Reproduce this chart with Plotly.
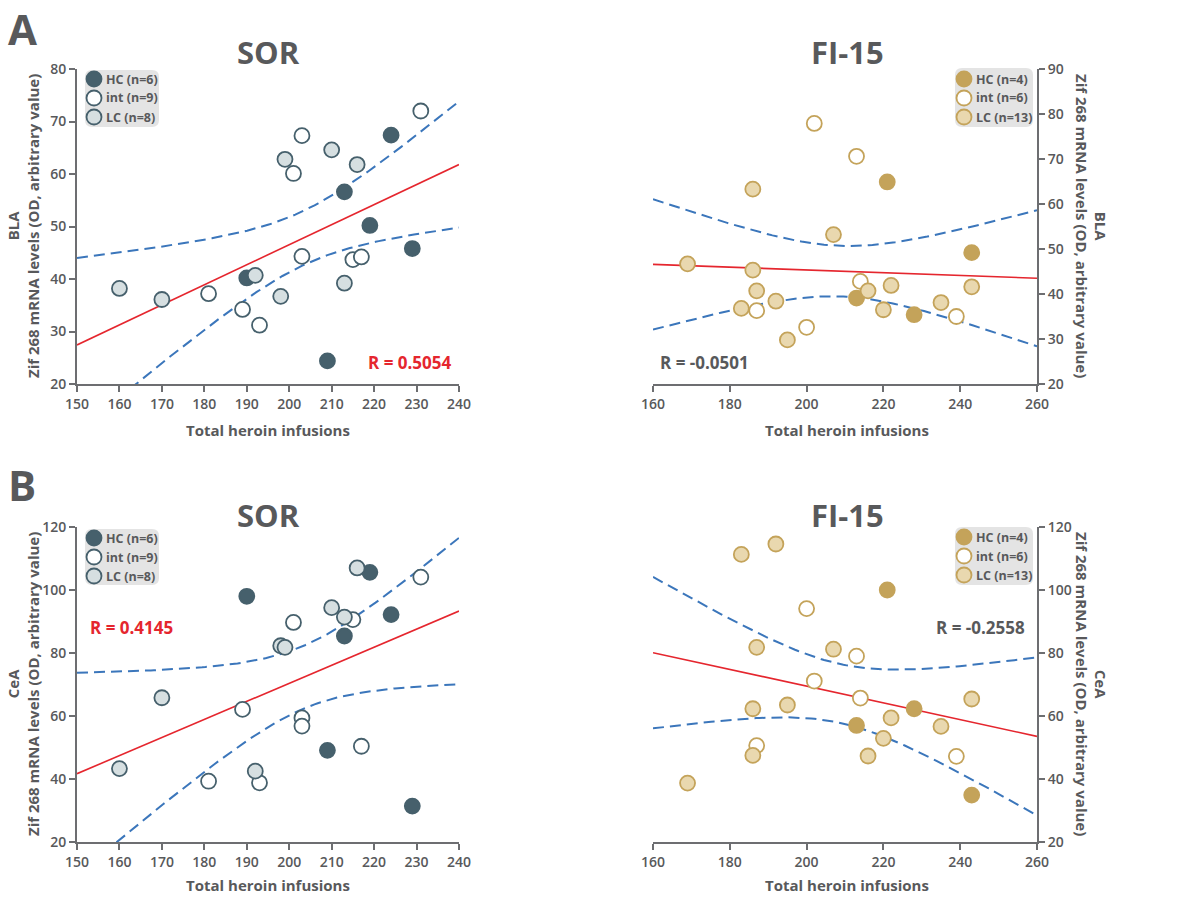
import numpy as np
import plotly.graph_objects as go

# ---------------- data ----------------
# Panel A (BLA), SOR group
a_sor_hc_x = [224, 213, 219, 229, 190, 209]
a_sor_hc_y = [67.4, 56.6, 50.2, 45.8, 40.2, 24.4]
a_sor_int_x = [231, 203, 201, 203, 215, 217, 181, 189, 193]
a_sor_int_y = [72.0, 67.3, 60.1, 44.3, 43.7, 44.2, 37.2, 34.2, 31.2]
a_sor_lc_x = [199, 210, 216, 192, 213, 198, 170, 160]
a_sor_lc_y = [62.8, 64.6, 61.8, 40.7, 39.2, 36.7, 36.1, 38.2]

# Panel A (BLA), FI-15 group
a_fi_hc_x = [221, 243, 213, 228]
a_fi_hc_y = [64.9, 49.2, 39.1, 35.4]
a_fi_int_x = [202, 213, 214, 187, 200, 239]
a_fi_int_y = [77.9, 70.6, 42.8, 36.3, 32.6, 35.0]
a_fi_lc_x = [186, 207, 169, 186, 187, 183, 192, 195, 216, 222, 220, 235, 243]
a_fi_lc_y = [63.3, 53.2, 46.7, 45.3, 40.7, 36.8, 38.4, 29.8, 40.7, 41.9, 36.5, 38.1, 41.6]

# Panel B (CeA), SOR group
b_sor_hc_x = [190, 219, 224, 213, 209, 229]
b_sor_hc_y = [98.0, 105.6, 92.2, 85.4, 49.1, 31.4]
b_sor_int_x = [231, 201, 215, 189, 203, 203, 217, 181, 193]
b_sor_int_y = [104.1, 89.7, 90.6, 62.1, 59.4, 56.8, 50.4, 39.3, 38.8]
b_sor_lc_x = [216, 210, 213, 198, 199, 170, 160, 192]
b_sor_lc_y = [107.0, 94.4, 91.4, 82.3, 81.8, 65.8, 43.3, 42.5]

# Panel B (CeA), FI-15 group
b_fi_hc_x = [221, 228, 213, 243]
b_fi_hc_y = [100.0, 62.3, 57.0, 34.9]
b_fi_int_x = [200, 213, 202, 214, 187, 239]
b_fi_int_y = [94.1, 79.0, 71.1, 65.7, 50.6, 47.2]
b_fi_lc_x = [183, 192, 187, 207, 186, 195, 222, 235, 243, 220, 186, 216, 169]
b_fi_lc_y = [111.3, 114.6, 81.8, 81.2, 62.3, 63.5, 59.4, 56.7, 65.4, 52.9, 47.5, 47.3, 38.7]

sor_labels = ["HC (n=6)", "int (n=9)", "LC (n=8)"]
fi_labels = ["HC (n=4)", "int (n=6)", "LC (n=13)"]
r_labels = ["R = 0.5054", "R = -0.0501", "R = 0.4145", "R = -0.2558"]
titles = ["SOR", "FI-15", "SOR", "FI-15"]
regions = ["BLA", "BLA", "CeA", "CeA"]

# ---------------- style ----------------
FONT = "Open Sans"
TXT = "#58595b"
AXC = "#6d6e71"
RED = "#e5262e"
BLUE = "#3b76bb"
SOR_DARK = "#46606c"
SOR_LIGHT = "#d6dfe1"
FI_DARK = "#c4a35a"
FI_LIGHT = "#e9d8af"
LEG_BG = "#e4e4e4"
T_CRIT = 2.0796  # two-sided 95 %, df = 21

W, H = 1187, 897


def px_x(p):
    return p / W


def px_y(p):
    return 1 - p / H


fig = go.Figure()

panels = [
    dict(x=(a_sor_hc_x, a_sor_int_x, a_sor_lc_x), y=(a_sor_hc_y, a_sor_int_y, a_sor_lc_y),
         xr=(150, 240), cols=(SOR_DARK, SOR_LIGHT), labels=sor_labels),
    dict(x=(a_fi_hc_x, a_fi_int_x, a_fi_lc_x), y=(a_fi_hc_y, a_fi_int_y, a_fi_lc_y),
         xr=(160, 260), cols=(FI_DARK, FI_LIGHT), labels=fi_labels),
    dict(x=(b_sor_hc_x, b_sor_int_x, b_sor_lc_x), y=(b_sor_hc_y, b_sor_int_y, b_sor_lc_y),
         xr=(150, 240), cols=(SOR_DARK, SOR_LIGHT), labels=sor_labels),
    dict(x=(b_fi_hc_x, b_fi_int_x, b_fi_lc_x), y=(b_fi_hc_y, b_fi_int_y, b_fi_lc_y),
         xr=(160, 260), cols=(FI_DARK, FI_LIGHT), labels=fi_labels),
]

for i, p in enumerate(panels):
    xa = "x" if i == 0 else f"x{i + 1}"
    ya = "y" if i == 0 else f"y{i + 1}"
    xs = np.array(sum([list(v) for v in p["x"]], []), dtype=float)
    ys = np.array(sum([list(v) for v in p["y"]], []), dtype=float)
    n = len(xs)
    xm = xs.mean()
    sxx = ((xs - xm) ** 2).sum()
    slope = ((xs - xm) * (ys - ys.mean())).sum() / sxx
    icpt = ys.mean() - slope * xm
    resid = ys - (icpt + slope * xs)
    s = np.sqrt((resid ** 2).sum() / (n - 2))

    # least-squares line with its 95 % confidence band
    gx = np.linspace(p["xr"][0], p["xr"][1], 120)
    fit = icpt + slope * gx
    half = T_CRIT * s * np.sqrt(1 / n + (gx - xm) ** 2 / sxx)

    for band in (fit + half, fit - half):
        fig.add_trace(go.Scatter(x=gx, y=band, mode="lines", xaxis=xa, yaxis=ya,
                                 line=dict(color=BLUE, width=2, dash="11px,6px"),
                                 showlegend=False, hoverinfo="skip"))
    fig.add_trace(go.Scatter(x=gx, y=fit, mode="lines", xaxis=xa, yaxis=ya,
                             line=dict(color=RED, width=1.6),
                             showlegend=False, hoverinfo="skip"))

    dark, light = p["cols"]
    fills = (dark, "white", light)
    for k in range(3):
        fig.add_trace(go.Scatter(
            x=p["x"][k], y=p["y"][k], mode="markers", xaxis=xa, yaxis=ya,
            name=p["labels"][k], showlegend=False,
            marker=dict(size=15, color=fills[k], line=dict(color=dark, width=1.8)),
        ))

axis_common = dict(showline=True, linecolor=AXC, linewidth=2, ticks="outside",
                   ticklen=6, tickwidth=2, tickcolor=AXC, showgrid=False,
                   zeroline=False, automargin=False,
                   tickfont=dict(family=FONT, size=14, color=TXT, weight=600))

xdom_l = [px_x(77), px_x(459)]
xdom_r = [px_x(653), px_x(1037)]
ydom_t = [px_y(384), px_y(69)]
ydom_b = [px_y(842), px_y(527)]

fig.update_layout(
    width=W, height=H, margin=dict(l=0, r=0, t=0, b=0, autoexpand=False),
    paper_bgcolor="white", plot_bgcolor="white", showlegend=False,
    font=dict(family=FONT, color=TXT),
    xaxis=dict(domain=xdom_l, range=[150, 240], tick0=150, dtick=10, anchor="y", **axis_common),
    yaxis=dict(domain=ydom_t, range=[20, 80], tick0=20, dtick=10, anchor="x", **axis_common),
    xaxis2=dict(domain=xdom_r, range=[160, 260], tick0=160, dtick=20, anchor="y2", **axis_common),
    yaxis2=dict(domain=ydom_t, range=[20, 90], tick0=20, dtick=10, anchor="x2", side="right", **axis_common),
    xaxis3=dict(domain=xdom_l, range=[150, 240], tick0=150, dtick=10, anchor="y3", **axis_common),
    yaxis3=dict(domain=ydom_b, range=[20, 120], tick0=20, dtick=20, anchor="x3", **axis_common),
    xaxis4=dict(domain=xdom_r, range=[160, 260], tick0=160, dtick=20, anchor="y4", **axis_common),
    yaxis4=dict(domain=ydom_b, range=[20, 120], tick0=20, dtick=20, anchor="x4", side="right", **axis_common),
)

shapes = []
ann = []

# Group keys: rounded grey box, one circle and one label per group
key_boxes = [(85, 70, 159, 127), (955, 68, 1033, 127), (85, 529, 159, 585), (955, 527, 1033, 585)]
key_rows = [(94, (79, 98, 117)), (964, (79, 98, 117)), (94, (538, 557, 576)), (964, (537, 556, 575))]
for i, p in enumerate(panels):
    x0, y0, x1, y1 = key_boxes[i]
    r = 7
    path = (f"M {px_x(x0 + r)},{px_y(y0)} L {px_x(x1 - r)},{px_y(y0)} "
            f"Q {px_x(x1)},{px_y(y0)} {px_x(x1)},{px_y(y0 + r)} "
            f"L {px_x(x1)},{px_y(y1 - r)} Q {px_x(x1)},{px_y(y1)} {px_x(x1 - r)},{px_y(y1)} "
            f"L {px_x(x0 + r)},{px_y(y1)} Q {px_x(x0)},{px_y(y1)} {px_x(x0)},{px_y(y1 - r)} "
            f"L {px_x(x0)},{px_y(y0 + r)} Q {px_x(x0)},{px_y(y0)} {px_x(x0 + r)},{px_y(y0)} Z")
    shapes.append(dict(type="path", path=path, xref="paper", yref="paper",
                       fillcolor=LEG_BG, line=dict(width=0), layer="below"))
    dark, light = p["cols"]
    fills = (dark, "white", light)
    mx, rows = key_rows[i]
    for k, ry in enumerate(rows):
        shapes.append(dict(type="circle", xref="paper", yref="paper",
                           xsizemode="pixel", ysizemode="pixel",
                           xanchor=px_x(mx), yanchor=px_y(ry),
                           x0=-7.5, x1=7.5, y0=-7.5, y1=7.5,
                           fillcolor=fills[k], line=dict(color=dark, width=1.8)))
        ann.append(dict(x=px_x(mx + 9.5), y=px_y(ry), text=p["labels"][k],
                        xanchor="left", yanchor="middle",
                        font=dict(size=12.5, weight=700, color=TXT)))

# Panel letters
ann.append(dict(x=px_x(6), y=px_y(28), text="A", xanchor="left", yanchor="middle",
                font=dict(size=42, weight=700, color=TXT)))
ann.append(dict(x=px_x(6), y=px_y(484), text="B", xanchor="left", yanchor="middle",
                font=dict(size=42, weight=700, color=TXT)))
# Panel titles
title_pos = [(268, 52), (847, 52), (268, 515), (847, 515)]
for t, (tx, ty) in zip(titles, title_pos):
    ann.append(dict(x=px_x(tx), y=px_y(ty), text=t, xanchor="center", yanchor="middle",
                    font=dict(size=31, weight=700, color=TXT)))
# x titles
for tx, ty in [(268, 430), (847, 430), (268, 885), (847, 885)]:
    ann.append(dict(x=px_x(tx), y=px_y(ty), text="Total heroin infusions", xanchor="center",
                    yanchor="middle", font=dict(size=15, weight=700, color=TXT)))
# y titles
ytxt = "Zif 268 mRNA levels (OD, arbitrary value)"
ann.append(dict(x=px_x(23), y=px_y(226), text=f"{regions[0]}<br>{ytxt}", textangle=-90,
                xanchor="center", yanchor="middle", font=dict(size=15, weight=700, color=TXT)))
ann.append(dict(x=px_x(1091), y=px_y(226), text=f"{regions[1]}<br>{ytxt}", textangle=90,
                xanchor="center", yanchor="middle", font=dict(size=15, weight=700, color=TXT)))
ann.append(dict(x=px_x(23), y=px_y(684), text=f"{regions[2]}<br>{ytxt}", textangle=-90,
                xanchor="center", yanchor="middle", font=dict(size=15, weight=700, color=TXT)))
ann.append(dict(x=px_x(1091), y=px_y(684), text=f"{regions[3]}<br>{ytxt}", textangle=90,
                xanchor="center", yanchor="middle", font=dict(size=15, weight=700, color=TXT)))
# correlation coefficients
r_pos = [(410, 363, RED), (704, 363, TXT), (131, 627, RED), (980, 627, TXT)]
for t, (rx, ry, c) in zip(r_labels, r_pos):
    ann.append(dict(x=px_x(rx), y=px_y(ry), text=t, xanchor="center", yanchor="middle",
                    font=dict(size=17, weight=700, color=c)))

for a in ann:
    a.update(xref="paper", yref="paper", showarrow=False)
fig.update_layout(annotations=ann, shapes=shapes)

fig.write_html("out.html", post_script="document.body.style.margin='0';")
